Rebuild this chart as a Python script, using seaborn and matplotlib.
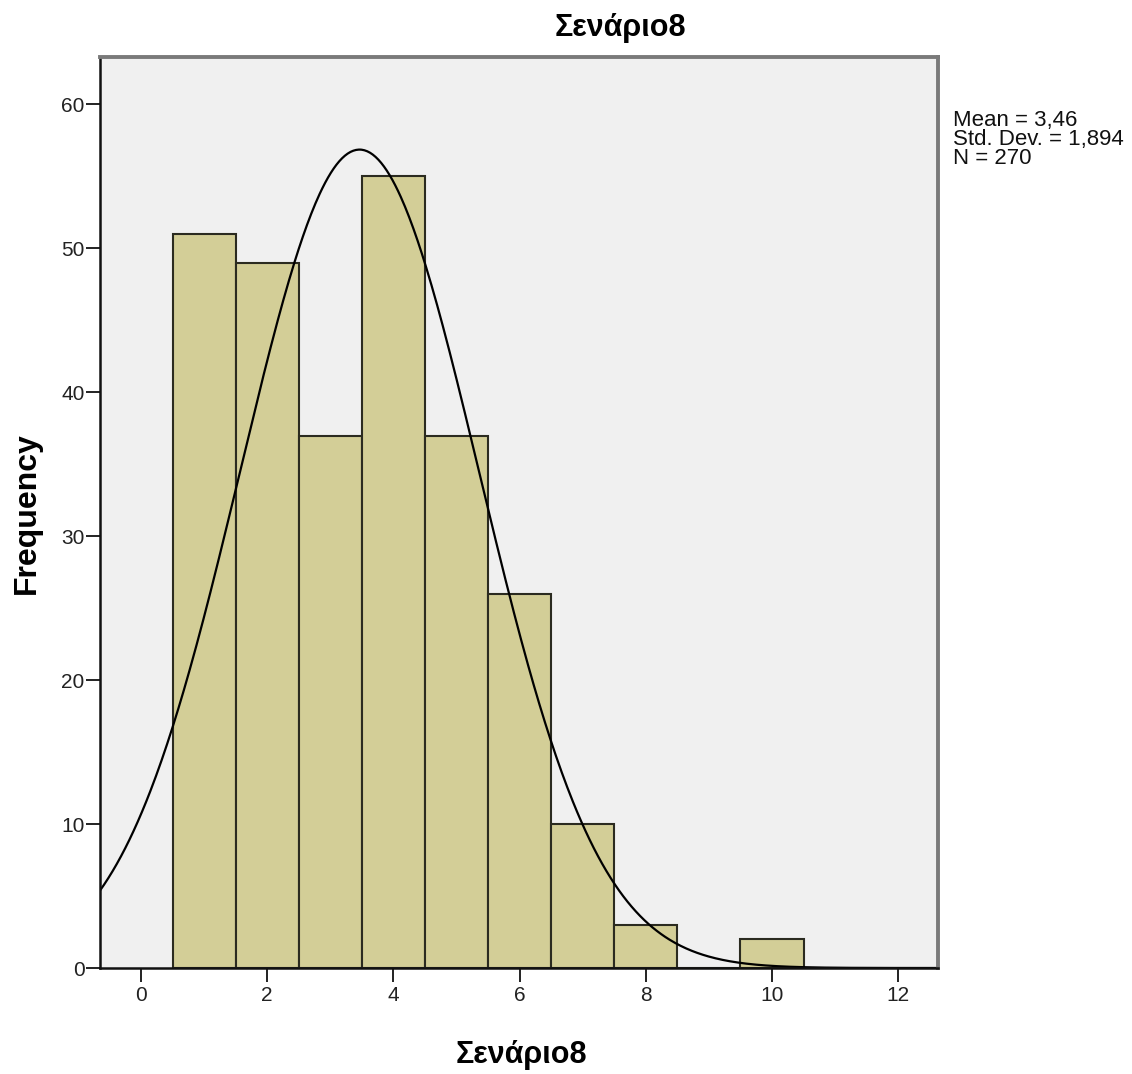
import numpy as np
import pandas as pd
import matplotlib
matplotlib.use("Agg")
import matplotlib.pyplot as plt
import seaborn as sns

# Data
values = [1, 2, 3, 4, 5, 6, 7, 8, 9, 10]
counts = [51, 49, 37, 55, 37, 26, 10, 3, 0, 2]
title = "Σενάριο8"
xlabel = "Σενάριο8"
ylabel = "Frequency"
stats_text = ["Mean = 3,46", "Std. Dev. = 1,894", "N = 270"]
xticks = [0, 2, 4, 6, 8, 10, 12]
yticks = [0, 10, 20, 30, 40, 50, 60]

sns.set_style("white")
plt.rcParams['font.family'] = ['Liberation Sans', 'DejaVu Sans']

df = pd.DataFrame({"v": values, "c": counts})

W, H = 1132, 1074
fig = plt.figure(figsize=(W / 100, H / 100), dpi=100)
ax = fig.add_axes([100 / W, 1 - 968 / H, 838 / W, 911 / H])
ax.set_facecolor("#F0F0F0")

sns.histplot(data=df, x="v", weights="c", discrete=True, ax=ax,
             color="#D3CE97", edgecolor="#2b2b20", linewidth=1.5, alpha=1.0)

# Normal curve
n = sum(counts)
mean = np.sum(np.array(values) * np.array(counts)) / n
sd = np.sqrt(np.sum(np.array(counts) * (np.array(values) - mean) ** 2) / (n - 1))
xs = np.linspace(-0.65, 12.63, 600)
ys = n * 1.0 / (sd * np.sqrt(2 * np.pi)) * np.exp(-0.5 * ((xs - mean) / sd) ** 2)
ax.plot(xs, ys, color="black", linewidth=1.6)

ax.set_xlim(-0.65, 12.63)
ax.set_ylim(0, 63.3)
ax.set_xticks(xticks)
ax.set_yticks(yticks)
ax.tick_params(axis='both', direction='out', length=10, width=1.3, color='#111111',
               labelsize=15, labelcolor='#222222', bottom=True, left=True)
ax.tick_params(axis='x', pad=3)
ax.tick_params(axis='y', pad=1)

for side in ['left', 'bottom']:
    ax.spines[side].set_color('#111111')
    ax.spines[side].set_linewidth(1.8)
for side in ['top', 'right']:
    ax.spines[side].set_color('#7a7a7a')
    ax.spines[side].set_linewidth(2.8)
    ax.spines[side].set_visible(True)

ax.set_xlabel("")
ax.set_ylabel("")

fig.text(620 / W, 1 - 36 / H, title, fontsize=22, fontweight='bold',
         ha='center', va='baseline', color='black')
fig.text(521 / W, 1 - 1063 / H, xlabel, fontsize=22, fontweight='bold',
         ha='center', va='baseline', color='black')
fig.text(27 / W, 1 - 513 / H, ylabel, fontsize=23, fontweight='bold',
         ha='center', va='center', rotation=90, color='black')

fig.text(953 / W, 1 - 110 / H, "\n".join(stats_text), fontsize=16, ha='left',
         va='top', linespacing=0.89, color='#111111')

fig.savefig("out.png", dpi=100)
